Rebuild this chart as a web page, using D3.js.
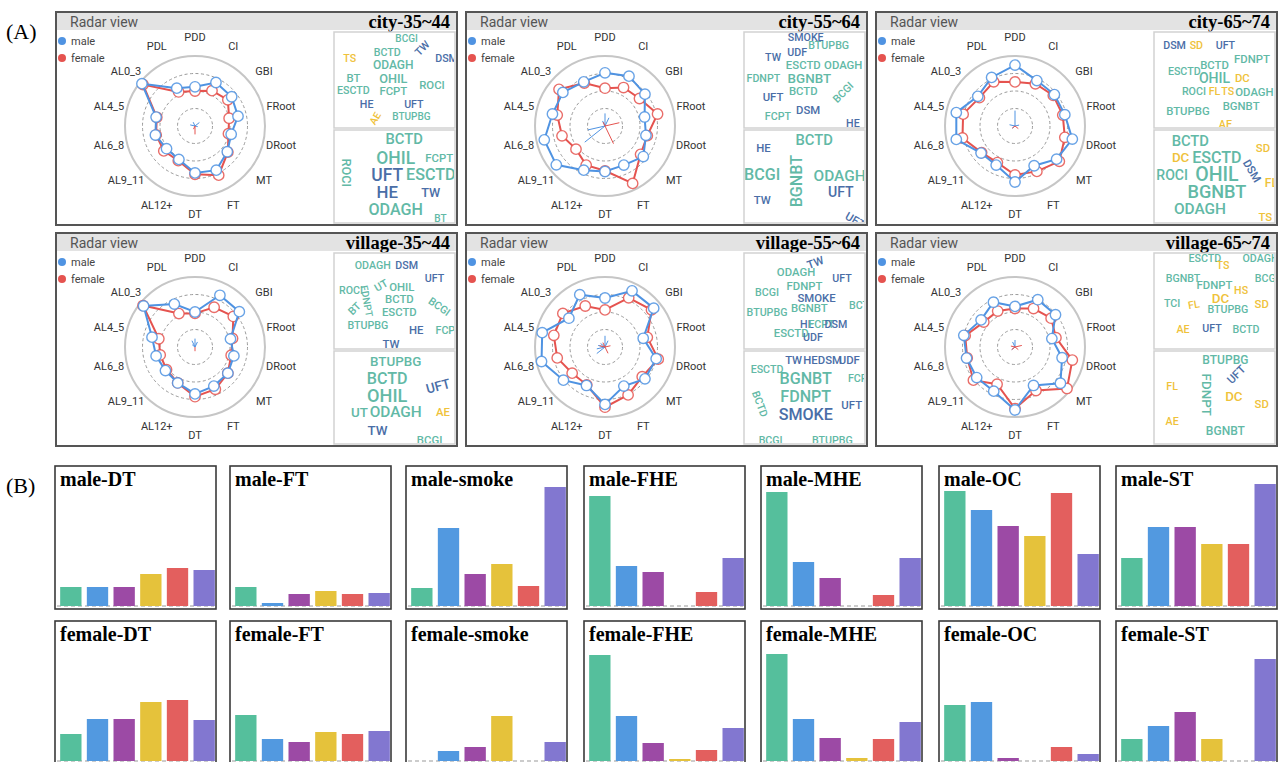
<!DOCTYPE html>
<html>
<head>
<meta charset="utf-8">
<script src="https://cdn.jsdelivr.net/npm/d3@7"></script>
<style>
  html, body { margin: 0; padding: 0; background: #fff; overflow: hidden; }
  svg { display: block; }
</style>
</head>
<body>
<svg id="fig" width="1279" height="762"></svg>
<script>
// ---- radar data (fraction of outer ring) ----
const axesLabels = ["PDD", "CI", "GBI", "FRoot", "DRoot", "MT", "FT", "DT",
  "AL12+", "AL9_11", "AL6_8", "AL4_5", "AL0_3", "PDL"];
const radarTitles = ["city-35~44", "city-55~64", "city-65~74",
  "village-35~44", "village-55~64", "village-65~74"];

const maleRadar = [
  [0.56, 0.69, 0.67, 0.63, 0.53, 0.59, 0.70, 0.67, 0.53, 0.52, 0.58, 0.57, 0.97, 0.60],
  [0.76, 0.79, 0.73, 0.58, 0.60, 0.70, 0.62, 0.65, 0.70, 0.89, 0.89, 0.77, 0.77, 0.70],
  [0.87, 0.72, 0.72, 0.73, 0.84, 0.76, 0.63, 0.80, 0.62, 0.62, 0.86, 0.86, 0.68, 0.77],
  [0.50, 0.82, 0.81, 0.52, 0.57, 0.60, 0.62, 0.67, 0.57, 0.54, 0.57, 0.63, 0.94, 0.68],
  [0.70, 0.89, 0.89, 0.56, 0.75, 0.73, 0.62, 0.82, 0.61, 0.76, 0.93, 0.92, 0.66, 0.83],
  [0.58, 0.75, 0.74, 0.54, 0.69, 0.83, 0.61, 0.90, 0.70, 0.70, 0.71, 0.75, 0.62, 0.71]
];
const femaleRadar = [
  [0.50, 0.56, 0.60, 0.50, 0.49, 0.60, 0.78, 0.69, 0.55, 0.57, 0.57, 0.56, 0.95, 0.54],
  [0.54, 0.61, 0.63, 0.77, 0.62, 0.65, 0.91, 0.64, 0.62, 0.53, 0.63, 0.70, 0.84, 0.68],
  [0.63, 0.67, 0.70, 0.70, 0.73, 0.81, 0.72, 0.70, 0.58, 0.61, 0.77, 0.76, 0.65, 0.70],
  [0.48, 0.63, 0.70, 0.55, 0.53, 0.60, 0.67, 0.71, 0.57, 0.52, 0.51, 0.53, 0.95, 0.53],
  [0.53, 0.78, 0.85, 0.62, 0.78, 0.68, 0.76, 0.86, 0.60, 0.60, 0.70, 0.75, 0.77, 0.65],
  [0.55, 0.61, 0.66, 0.60, 0.84, 0.95, 0.69, 0.88, 0.59, 0.76, 0.70, 0.73, 0.57, 0.57]
];
// small inner spokes
const maleSpokes = [
  [0, 0, 0.08, 0, 0.04, 0, 0, 0, 0, 0, 0, 0.07, 0, 0.06],
  [0.18, 0.13, 0, 0, 0, 0, 0, 0, 0, 0.37, 0.25, 0, 0, 0.08],
  [0.22, 0, 0, 0.06, 0, 0, 0, 0, 0, 0.05, 0, 0.08, 0, 0],
  [0.12, 0.08, 0, 0, 0, 0, 0, 0, 0, 0, 0, 0, 0.05, 0.10],
  [0.16, 0.10, 0, 0, 0, 0, 0, 0, 0, 0.15, 0.12, 0.10, 0.08, 0],
  [0.10, 0, 0, 0, 0, 0, 0, 0, 0, 0.06, 0, 0, 0, 0.08]
];
const femaleSpokes = [
  [0, 0, 0, 0, 0, 0, 0, 0.12, 0.05, 0, 0, 0, 0, 0],
  [0, 0, 0, 0.21, 0, 0, 0.28, 0, 0, 0, 0, 0, 0, 0.06],
  [0, 0, 0, 0, 0, 0.06, 0, 0, 0, 0.05, 0, 0, 0, 0],
  [0, 0, 0, 0, 0, 0, 0, 0.06, 0, 0, 0, 0, 0, 0],
  [0, 0, 0, 0.08, 0, 0, 0.10, 0, 0, 0, 0, 0.08, 0, 0.07],
  [0, 0, 0, 0.10, 0, 0.06, 0, 0, 0, 0.06, 0, 0.06, 0, 0]
];

// ---- word clouds: [word, weight, group, u, v, rotate] ----
const cloudsTop = [
  [["BCGI",10,"t",0.60,0.07,0],["TW",11,"b",0.73,0.17,-45],["TS",11,"y",0.13,0.28,0],
   ["BCTD",11,"t",0.44,0.21,0],["DSM",11,"b",0.93,0.28,0],["ODAGH",13,"t",0.49,0.34,0],
   ["BT",12,"t",0.16,0.48,0],["OHIL",14,"t",0.49,0.48,0],["ROCI",12,"t",0.81,0.55,0],
   ["ESCTD",11,"t",0.16,0.61,0],["FCPT",12,"t",0.49,0.61,0],["HE",11,"b",0.27,0.76,0],
   ["UFT",11,"b",0.66,0.76,0],["AE",10,"y",0.34,0.90,-60],["BTUPBG",10,"t",0.64,0.88,0]],
  [["SMOKE",11,"b",0.51,0.06,0],["BTUPBG",11,"t",0.70,0.14,0],["TW",11,"b",0.24,0.27,0],
   ["UDF",11,"b",0.44,0.21,0],["ESCTD",12,"t",0.49,0.34,0],["ODAGH",12,"t",0.82,0.34,0],
   ["FDNPT",11,"t",0.16,0.48,0],["BGNBT",15,"t",0.54,0.48,0],["BCGI",11,"t",0.82,0.63,-45],
   ["BCTD",12,"t",0.49,0.61,0],["UFT",12,"b",0.24,0.68,0],["DSM",12,"b",0.53,0.81,0],
   ["FCPT",11,"t",0.28,0.88,0],["HE",11,"b",0.90,0.95,0]],
  [["DSM",11,"b",0.17,0.14,0],["SD",11,"y",0.35,0.14,0],["UFT",11,"b",0.59,0.14,0],
   ["FDNPT",12,"t",0.81,0.28,0],["BCTD",12,"t",0.50,0.34,0],["ESCTD",11,"t",0.25,0.41,0],
   ["OHIL",16,"t",0.50,0.48,0],["DC",12,"y",0.73,0.48,0],["ROCI",11,"t",0.33,0.62,0],
   ["FL",11,"y",0.50,0.62,0],["TS",11,"y",0.61,0.62,0],["ODAGH",12,"t",0.83,0.62,0],
   ["BGNBT",12,"t",0.72,0.77,0],["BTUPBG",12,"t",0.28,0.82,0],["AE",11,"y",0.59,0.96,0]],
  [["ODAGH",11,"t",0.32,0.13,0],["DSM",11,"b",0.60,0.13,0],["UFT",11,"b",0.83,0.27,0],
   ["ROCI",11,"t",0.14,0.39,0],["UT",11,"t",0.39,0.34,-30],["OHIL",12,"t",0.56,0.35,0],
   ["FDNPT",10,"t",0.27,0.50,80],["BT",11,"t",0.17,0.58,-45],["BCTD",12,"t",0.54,0.48,0],
   ["BCGI",11,"t",0.87,0.56,35],["ESCTD",12,"t",0.54,0.61,0],["BTUPBG",11,"t",0.28,0.75,0],
   ["HE",12,"b",0.68,0.80,0],["FCP",11,"t",0.92,0.81,0],["TW",12,"b",0.47,0.95,0]],
  [["TW",12,"b",0.59,0.10,-20],["ODAGH",12,"t",0.43,0.20,0],["UFT",11,"b",0.81,0.27,0],
   ["FDNPT",12,"t",0.50,0.34,0],["BCGI",11,"t",0.19,0.41,0],["SMOKE",12,"b",0.60,0.47,0],
   ["BGNBT",12,"t",0.54,0.57,0],["BCT",11,"t",0.95,0.55,0],["BTUPBG",11,"t",0.19,0.62,0],
   ["HE",11,"b",0.52,0.74,0],["FCPT",11,"t",0.64,0.74,0],["DSM",11,"b",0.76,0.74,0],
   ["ESCTD",12,"t",0.39,0.83,0],["UDF",11,"b",0.57,0.88,0]],
  [["ESCTD",11,"t",0.42,0.06,0],["TS",11,"y",0.57,0.13,0],["ODAGH",11,"t",0.88,0.06,0],
   ["BGNBT",11,"t",0.24,0.27,0],["FDNPT",12,"t",0.50,0.33,0],["BCG",11,"t",0.92,0.27,0],
   ["HS",11,"y",0.72,0.39,0],["DC",15,"y",0.55,0.47,0],["TCI",11,"t",0.15,0.53,0],
   ["FL",11,"y",0.33,0.54,-10],["BTUPBG",11,"t",0.61,0.59,0],["SD",12,"y",0.89,0.53,0],
   ["AE",11,"y",0.24,0.80,0],["UFT",11,"b",0.48,0.79,0],["BCTD",11,"t",0.76,0.80,0]]
];
const cloudsBottom = [
  [["BCTD",17,"t",0.58,0.10,0],["OHIL",21,"t",0.51,0.30,0],["FCPT",12,"t",0.87,0.30,0],
   ["ROCI",14,"t",0.10,0.46,90],["UFT",21,"b",0.44,0.48,0],["ESCTD",19,"t",0.80,0.48,0],
   ["HE",20,"b",0.44,0.67,0],["TW",14,"b",0.80,0.67,0],["ODAGH",19,"t",0.51,0.86,0],
   ["BT",10,"t",0.88,0.95,0]],
  [["BCTD",17,"t",0.58,0.11,0],["HE",12,"b",0.16,0.19,0],["BCGI",19,"t",0.15,0.48,0],
   ["BGNBT",19,"t",0.43,0.55,-90],["ODAGH",18,"t",0.79,0.49,0],["UFT",16,"b",0.80,0.67,0],
   ["TW",12,"b",0.15,0.75,0],["UFT",12,"b",0.92,0.97,30]],
  [["BCTD",17,"t",0.30,0.12,0],["SD",12,"y",0.90,0.19,0],["DC",15,"y",0.22,0.30,0],
   ["ESCTD",19,"t",0.52,0.30,0],["ROCI",16,"t",0.15,0.48,0],["OHIL",24,"t",0.52,0.48,0],
   ["DSM",12,"b",0.81,0.44,60],["FL",13,"y",0.97,0.57,0],["BGNBT",22,"t",0.52,0.66,0],
   ["ODAGH",18,"t",0.38,0.85,0],["TS",12,"y",0.92,0.94,0]],
  [["BTUPBG",15,"t",0.51,0.11,0],["BCTD",19,"t",0.44,0.30,0],["UFT",15,"b",0.86,0.38,-15],
   ["OHIL",22,"t",0.44,0.48,0],["UT",15,"t",0.21,0.66,0],["ODAGH",18,"t",0.51,0.66,0],
   ["AE",12,"y",0.90,0.66,0],["TW",15,"b",0.36,0.85,0],["BCGI",12,"t",0.79,0.96,0]],
  [["TW",12,"b",0.41,0.10,0],["HE",12,"b",0.55,0.10,0],["DSM",12,"b",0.71,0.10,0],
   ["UDF",12,"b",0.87,0.10,0],["ESCTD",11,"t",0.19,0.20,0],["BGNBT",19,"t",0.51,0.30,0],
   ["FCP",11,"t",0.94,0.30,0],["BCTD",11,"t",0.13,0.57,70],["FDNPT",19,"t",0.51,0.49,0],
   ["SMOKE",19,"b",0.51,0.68,0],["UFT",12,"b",0.89,0.58,0],["BCGI",11,"t",0.22,0.96,0],
   ["BTUPBG",11,"t",0.73,0.96,0]],
  [["BTUPBG",13,"t",0.59,0.10,0],["FDNPT",15,"t",0.43,0.47,90],["UFT",12,"b",0.68,0.25,-45],
   ["FL",11,"y",0.15,0.38,0],["DC",15,"y",0.66,0.49,0],["SD",12,"y",0.89,0.57,0],
   ["AE",11,"y",0.15,0.76,0],["BGNBT",13,"t",0.59,0.86,0]]
];

// ---- bar data (B) ----
const barGroups = radarTitles;
const barMeasures = ["DT", "FT", "smoke", "FHE", "MHE", "OC", "ST"];
const maleBarValues = [
  [19, 19, 19, 32, 38, 36],
  [19, 3, 12, 15, 12, 13],
  [18, 78, 32, 42, 20, 119],
  [110, 40, 34, 0, 14, 48],
  [114, 44, 28, 0, 11, 48],
  [115, 96, 80, 70, 113, 52],
  [48, 79, 79, 62, 62, 122]
];
const femaleBarValues = [
  [27, 42, 42, 59, 61, 41],
  [46, 22, 19, 29, 27, 30],
  [0, 10, 14, 45, 0, 19],
  [106, 45, 18, 2, 11, 33],
  [107, 42, 23, 3, 22, 39],
  [56, 59, 3, 0, 14, 7],
  [22, 35, 49, 22, 0, 102]
];

const barColors = ["#55bf9c", "#5299e0", "#9c4aa5", "#e5c23b", "#e35f5e", "#8277d0"];
const cloudColors = { t: "#62b9a6", b: "#4a6ea7", y: "#efc23a" };
const maleColor = "#4f93e2";
const femaleColor = "#e5534f";

const sans = "Roboto, 'Liberation Sans', Arial, sans-serif";
const serif = "'Liberation Serif', 'Times New Roman', serif";

const svg = d3.select("#fig");

// panel labels
svg.append("text").attr("x", 6).attr("y", 39)
  .style("font-family", serif).style("font-size", "22px").text("(A)");
svg.append("text").attr("x", 6).attr("y", 493)
  .style("font-family", serif).style("font-size", "22px").text("(B)");

// ---- radar panels ----
const panelX = [56, 466, 876];
const panelY = [12, 233];
const panelW = 401, panelH = 213;
const radarR = 70;

const angle = d3.scaleLinear().domain([0, axesLabels.length]).range([0, 2 * Math.PI]);
const rScale = d3.scaleLinear().domain([0, 1]).range([0, radarR]);
const fontScale = d3.scaleLinear().domain([10, 24]).range([10, 19.5]);

function drawRadar(g, male, female, spM, spF) {
  [0.25, 0.5, 0.75].forEach((lv) => {
    g.append("circle").attr("r", rScale(lv))
      .attr("fill", "none").attr("stroke", "#999")
      .attr("stroke-width", 1).attr("stroke-dasharray", "3,2.5");
  });
  g.append("circle").attr("r", rScale(1))
    .attr("fill", "none").attr("stroke", "#c6c6c6").attr("stroke-width", 2);

  g.selectAll(".axlab").data(axesLabels).enter().append("text")
    .attr("class", "axlab")
    .attr("x", (d, i) => d3.pointRadial(angle(i), rScale(1.26))[0])
    .attr("y", (d, i) => d3.pointRadial(angle(i), rScale(1.26))[1])
    .attr("text-anchor", "middle").attr("dominant-baseline", "central")
    .style("font-family", sans).style("font-size", "11px").style("fill", "#333")
    .text((d) => d);

  [[spM, maleColor], [spF, femaleColor]].forEach(([sp, col]) => {
    sp.forEach((len, i) => {
      if (!len) return;
      const [x, y] = d3.pointRadial(angle(i), rScale(len));
      g.append("line").attr("x1", 0).attr("y1", 0).attr("x2", x).attr("y2", y)
        .attr("stroke", col).attr("stroke-width", 1);
    });
  });

  const line = d3.lineRadial()
    .angle((d, i) => angle(i))
    .radius((d) => rScale(d))
    .curve(d3.curveLinearClosed);

  [[female, femaleColor], [male, maleColor]].forEach(([vals, col]) => {
    g.append("path").attr("d", line(vals))
      .attr("fill", "none").attr("stroke", col).attr("stroke-width", 2);
    g.selectAll(null).data(vals).enter().append("circle")
      .attr("cx", (d, i) => d3.pointRadial(angle(i), rScale(d))[0])
      .attr("cy", (d, i) => d3.pointRadial(angle(i), rScale(d))[1])
      .attr("r", 5.2)
      .attr("fill", "#fff").attr("stroke", col).attr("stroke-width", 1.4)
      .attr("stroke-opacity", 0.85);
  });
}

function drawCloud(g, words, box, id) {
  g.append("rect").attr("x", box.x).attr("y", box.y)
    .attr("width", box.w).attr("height", box.h)
    .attr("fill", "#fff").attr("stroke", "#d2d2d2").attr("stroke-width", 1.5);
  g.append("clipPath").attr("id", id).append("rect")
    .attr("x", box.x + 1).attr("y", box.y + 1)
    .attr("width", box.w - 2).attr("height", box.h - 2);
  const u = d3.scaleLinear().domain([0, 1]).range([box.x, box.x + box.w]);
  const v = d3.scaleLinear().domain([0, 1]).range([box.y, box.y + box.h]);
  g.append("g").attr("clip-path", `url(#${id})`)
    .selectAll("text").data(words).enter().append("text")
    .attr("transform", (d) => `translate(${u(d[3])},${v(d[4])}) rotate(${d[5]})`)
    .attr("text-anchor", "middle").attr("dominant-baseline", "central")
    .style("font-family", sans).style("font-weight", 500)
    .style("font-size", (d) => fontScale(d[1]) + "px")
    .style("fill", (d) => cloudColors[d[2]])
    .text((d) => d[0]);
}

radarTitles.forEach((title, k) => {
  const px = panelX[k % 3], py = panelY[Math.floor(k / 3)];
  const g = svg.append("g").attr("transform", `translate(${px},${py})`);

  g.append("rect").attr("width", panelW).attr("height", panelH)
    .attr("fill", "#fff").attr("stroke", "#555").attr("stroke-width", 2);
  g.append("rect").attr("x", 1).attr("y", 1).attr("width", panelW - 2).attr("height", 17)
    .attr("fill", "#e3e3e3");
  g.append("text").attr("x", 14).attr("y", 14.5)
    .style("font-family", sans).style("font-size", "14px").style("fill", "#555")
    .text("Radar view");
  g.append("text").attr("x", panelW - 7).attr("y", 16).attr("text-anchor", "end")
    .style("font-family", serif).style("font-weight", "bold").style("font-size", "18.5px")
    .text(title);

  // legend
  [["male", maleColor], ["female", femaleColor]].forEach(([lab, col], j) => {
    g.append("circle").attr("cx", 6).attr("cy", 29 + j * 17).attr("r", 4).attr("fill", col);
    g.append("text").attr("x", 15).attr("y", 29 + j * 17).attr("dominant-baseline", "central")
      .style("font-family", sans).style("font-size", "11px").style("fill", "#444").text(lab);
  });

  const rg = g.append("g").attr("transform", "translate(139,114)");
  drawRadar(rg, maleRadar[k], femaleRadar[k], maleSpokes[k], femaleSpokes[k]);

  drawCloud(g, cloudsTop[k], { x: 278, y: 20, w: 121, h: 96 }, `ct${k}`);
  drawCloud(g, cloudsBottom[k], { x: 278, y: 118, w: 121, h: 93 }, `cb${k}`);
});

// ---- bar panels ----
const barX = [55, 230, 406, 584, 761, 939, 1116];
const barRows = [
  { y: 466, sex: "male", values: maleBarValues },
  { y: 621, sex: "female", values: femaleBarValues }
];
const barW = 161, barH = 143;

barRows.forEach((row) => {
  barMeasures.forEach((m, j) => {
    const bx = barX[j], by = row.y;
    const base = by + barH - 3;
    const g = svg.append("g");

    g.append("rect").attr("x", bx).attr("y", by).attr("width", barW).attr("height", barH)
      .attr("fill", "#fff").attr("stroke", "#3a3a3a").attr("stroke-width", 1.6);

    const x = d3.scaleBand().domain(barGroups)
      .range([bx + 2.5, bx + barW + 1.5]).paddingInner(0.2).paddingOuter(0.1);
    const y = d3.scaleLinear().domain([0, 125]).range([base, base - 125]);

    g.append("line").attr("x1", bx + 2).attr("x2", bx + barW - 2)
      .attr("y1", base).attr("y2", base)
      .attr("stroke", "#999").attr("stroke-width", 1).attr("stroke-dasharray", "4,3");

    g.selectAll(".bar").data(row.values[j]).enter().append("rect")
      .attr("x", (d, i) => x(barGroups[i]))
      .attr("y", (d) => y(d))
      .attr("width", x.bandwidth())
      .attr("height", (d) => base - y(d))
      .attr("fill", (d, i) => barColors[i]);

    g.append("text").attr("x", bx + 5).attr("y", by + 20)
      .style("font-family", serif).style("font-weight", "bold").style("font-size", "20px")
      .text(`${row.sex}-${m}`);
  });
});
</script>
</body>
</html>
